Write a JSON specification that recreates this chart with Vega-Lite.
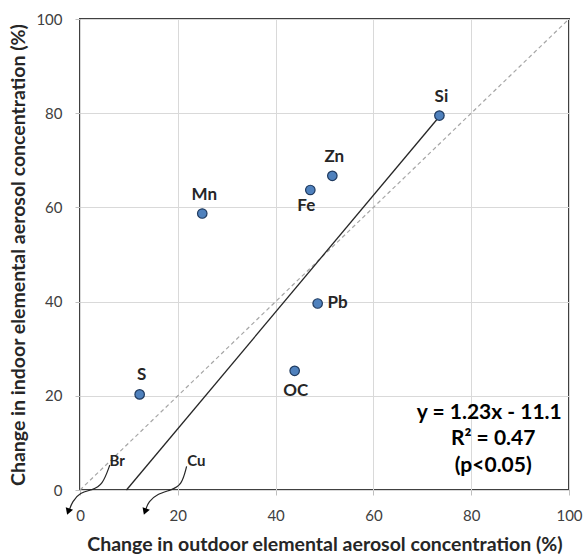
{
  "$schema": "https://vega.github.io/schema/vega-lite/v6.json",
  "autosize": {"type": "none"},
  "padding": {"left": 80, "top": 19, "right": 14, "bottom": 65},
  "width": 489,
  "height": 471,
  "background": "white",
  "config": {
    "view": {"stroke": "#404040", "strokeWidth": 2},
    "font": "Lato",
    "axis": {
      "grid": true, "gridColor": "#d9d9d9", "gridWidth": 1,
      "domain": false, "tickColor": "#bfbfbf", "tickSize": 5, "labelFlush": false,
      "labelFont": "Lato", "labelFontSize": 15, "labelColor": "#404040",
      "titleFont": "Lato", "titleFontSize": 19.5, "titleFontWeight": "bold", "titleColor": "#262626"
    }
  },
  "datasets": {
    "points": [
      {"element": "Si", "outdoor": 73.5, "indoor": 79.5},
      {"element": "Zn", "outdoor": 51.6, "indoor": 66.7},
      {"element": "Fe", "outdoor": 47.1, "indoor": 63.7},
      {"element": "Mn", "outdoor": 25.0, "indoor": 58.7},
      {"element": "Pb", "outdoor": 48.6, "indoor": 39.6},
      {"element": "OC", "outdoor": 43.9, "indoor": 25.3},
      {"element": "S", "outdoor": 12.2, "indoor": 20.3}
    ],
    "fit": [
      {"outdoor": 9.5, "indoor": 0.0},
      {"outdoor": 73.5, "indoor": 79.3}
    ],
    "oneone": [
      {"outdoor": 0, "indoor": 0},
      {"outdoor": 100, "indoor": 100}
    ],
    "arrows": [
      {"element": "Br", "order": 1, "outdoor": 6.1, "indoor": 5.3},
      {"element": "Br", "order": 2, "outdoor": 4.6, "indoor": 1.0},
      {"element": "Br", "order": 3, "outdoor": 2.5, "indoor": 0.0},
      {"element": "Br", "order": 4, "outdoor": 0.0, "indoor": -0.5},
      {"element": "Br", "order": 5, "outdoor": -1.6, "indoor": -2.5},
      {"element": "Br", "order": 6, "outdoor": -2.2, "indoor": -4.3},
      {"element": "Cu", "order": 1, "outdoor": 21.8, "indoor": 5.0},
      {"element": "Cu", "order": 2, "outdoor": 20.8, "indoor": 1.0},
      {"element": "Cu", "order": 3, "outdoor": 18.7, "indoor": 0.0},
      {"element": "Cu", "order": 4, "outdoor": 15.8, "indoor": -0.8},
      {"element": "Cu", "order": 5, "outdoor": 14.0, "indoor": -2.5},
      {"element": "Cu", "order": 6, "outdoor": 13.5, "indoor": -4.0}
    ],
    "tips": [
      {"element": "Br", "outdoor": -2.4, "indoor": -4.6},
      {"element": "Cu", "outdoor": 13.3, "indoor": -4.6}
    ],
    "arrowlabels": [
      {"element": "Br", "outdoor": 7.6, "indoor": 6.2},
      {"element": "Cu", "outdoor": 23.8, "indoor": 6.2}
    ],
    "stats": [
      {"text": "y = 1.23x - 11.1", "outdoor": 83.7, "indoor": 16.3},
      {"text": "R² = 0.47", "outdoor": 84.5, "indoor": 10.8},
      {"text": "(p<0.05)", "outdoor": 84.5, "indoor": 5.1}
    ]
  },
  "encoding": {
    "x": {"field": "outdoor", "type": "quantitative",
      "scale": {"domain": [0, 100], "nice": false},
      "axis": {"values": [0, 20, 40, 60, 80, 100], "labelPadding": 13, "titlePadding": 12,
        "title": "Change in outdoor elemental aerosol concentration (%)"}},
    "y": {"field": "indoor", "type": "quantitative",
      "scale": {"domain": [0, 100], "nice": false},
      "axis": {"values": [0, 20, 40, 60, 80, 100], "labelPadding": 13, "titlePadding": 7,
        "title": "Change in indoor elemental aerosol concentration (%)"}}
  },
  "layer": [
    {"data": {"name": "oneone"}, "mark": {"type": "line", "color": "#a6a6a6", "strokeWidth": 1.2, "strokeDash": [4, 3]}},
    {"data": {"name": "fit"}, "mark": {"type": "line", "color": "#262626", "strokeWidth": 1.3}},
    {"data": {"name": "arrows"}, "mark": {"type": "line", "color": "#262626", "strokeWidth": 1.2, "interpolate": "basis", "clip": false},
      "encoding": {"detail": {"field": "element"}, "order": {"field": "order", "type": "quantitative"}}},
    {"data": {"name": "tips"}, "mark": {"type": "point", "shape": "triangle-down", "filled": true, "color": "#000000", "size": 60, "opacity": 1, "clip": false, "angle": 20}},
    {"data": {"name": "arrowlabels"}, "mark": {"type": "text", "fontWeight": "bold", "fontSize": 15, "color": "#262626"},
      "encoding": {"text": {"field": "element"}}},
    {"data": {"name": "points"}, "mark": {"type": "point", "filled": true, "size": 90, "color": "#4f81bd", "stroke": "#1f3a5f", "strokeWidth": 1.2, "opacity": 1}},
    {"data": {"name": "points"}, "transform": [{"filter": "indexof(['Si','Zn','Mn','S'], datum.element) >= 0"}],
      "mark": {"type": "text", "fontWeight": "bold", "fontSize": 17, "color": "#262626", "dy": -19, "dx": 2},
      "encoding": {"text": {"field": "element"}}},
    {"data": {"name": "points"}, "transform": [{"filter": "datum.element == 'Fe'"}],
      "mark": {"type": "text", "fontWeight": "bold", "fontSize": 17, "color": "#262626", "dy": 16, "dx": -4},
      "encoding": {"text": {"field": "element"}}},
    {"data": {"name": "points"}, "transform": [{"filter": "datum.element == 'Pb'"}],
      "mark": {"type": "text", "fontWeight": "bold", "fontSize": 17, "color": "#262626", "dx": 20},
      "encoding": {"text": {"field": "element"}}},
    {"data": {"name": "points"}, "transform": [{"filter": "datum.element == 'OC'"}],
      "mark": {"type": "text", "fontWeight": "bold", "fontSize": 17, "color": "#262626", "dy": 20, "dx": 1},
      "encoding": {"text": {"field": "element"}}},
    {"data": {"name": "stats"}, "mark": {"type": "text", "fontWeight": "bold", "fontSize": 21, "color": "#000000"},
      "encoding": {"text": {"field": "text"}}}
  ]
}
